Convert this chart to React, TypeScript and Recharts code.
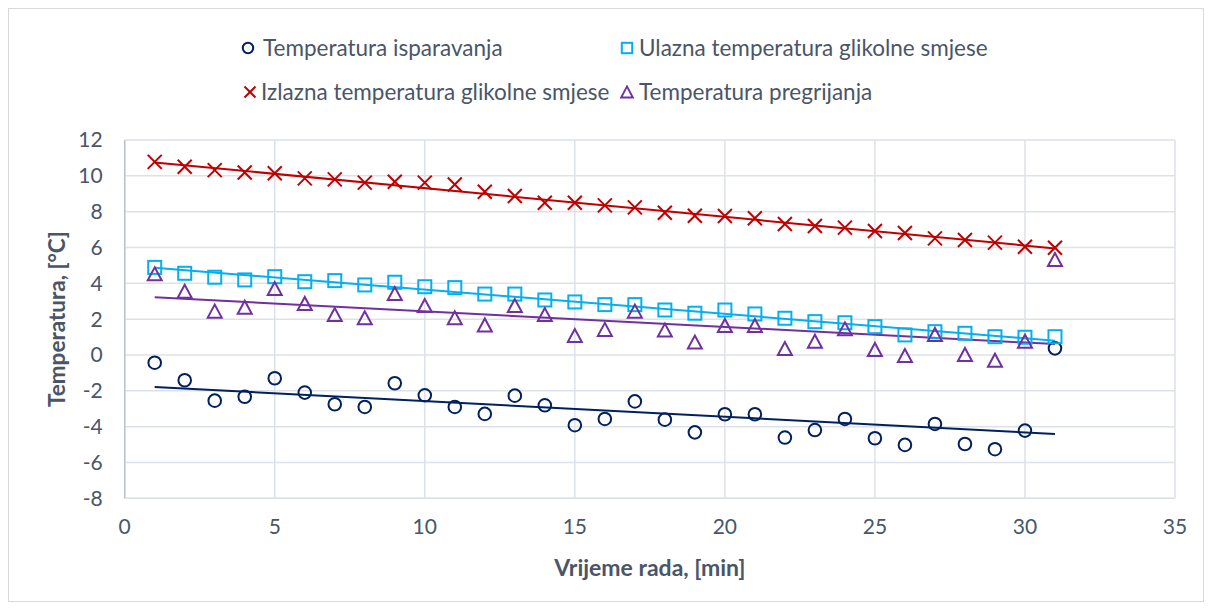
import React from 'react';
import { ScatterChart, Scatter, XAxis, YAxis, CartesianGrid, Legend, Label } from 'recharts';

const minutes = [1, 2, 3, 4, 5, 6, 7, 8, 9, 10, 11, 12, 13, 14, 15, 16, 17, 18, 19, 20, 21, 22, 23, 24, 25, 26, 27, 28, 29, 30, 31];

const isparavanja = [-0.43, -1.41, -2.55, -2.33, -1.3, -2.1, -2.75, -2.9, -1.58, -2.25, -2.9, -3.29, -2.27, -2.81, -3.92, -3.57, -2.59, -3.61, -4.32, -3.31, -3.31, -4.61, -4.19, -3.57, -4.65, -5.02, -3.85, -4.97, -5.26, -4.22, 0.37];
const ulazna = [4.89, 4.56, 4.34, 4.19, 4.37, 4.09, 4.15, 3.91, 4.06, 3.81, 3.76, 3.4, 3.4, 3.07, 2.96, 2.81, 2.81, 2.51, 2.33, 2.51, 2.29, 2.05, 1.86, 1.8, 1.58, 1.12, 1.3, 1.21, 1.02, 0.99, 1.02];
const izlazna = [10.78, 10.51, 10.32, 10.19, 10.14, 9.86, 9.8, 9.62, 9.67, 9.62, 9.52, 9.11, 8.87, 8.5, 8.5, 8.35, 8.24, 7.94, 7.77, 7.76, 7.63, 7.31, 7.2, 7.11, 6.92, 6.81, 6.51, 6.42, 6.27, 6.04, 5.99];
const pregrijanja = [4.5, 3.53, 2.42, 2.64, 3.68, 2.85, 2.23, 2.05, 3.4, 2.73, 2.05, 1.65, 2.73, 2.23, 1.06, 1.4, 2.42, 1.36, 0.69, 1.62, 1.62, 0.33, 0.74, 1.43, 0.28, -0.06, 1.12, 0.0, -0.32, 0.74, 5.3];

const trendX = [1, 31];
const trendIsparavanja = [-1.79, -4.41];
const trendUlazna = [4.87, 0.8];
const trendIzlazna = [10.75, 5.95];
const trendPregrijanja = [3.22, 0.61];

const xTicks = [0, 5, 10, 15, 20, 25, 30, 35];
const yTicks = [-8, -6, -4, -2, 0, 2, 4, 6, 8, 10, 12];

const seriesNames = [
  'Temperatura isparavanja',
  'Ulazna temperatura glikolne smjese',
  'Izlazna temperatura glikolne smjese',
  'Temperatura pregrijanja',
];

const NAVY = '#002060';
const CYAN = '#00B0F0';
const RED = '#C00000';
const PURPLE = '#7030A0';
const TEXT = '#4A5568';
const GRID = '#DDE2E9';
const FONT = 'Lato, "Noto Sans", sans-serif';

const toPoints = (ys: number[], xs: number[] = minutes) => xs.map((x, i) => ({ x, y: ys[i] }));

const CircleMark = (p: any) => <circle cx={p.cx} cy={p.cy} r={6.3} fill="none" stroke={NAVY} strokeWidth={2} />;
const SquareMark = (p: any) => <rect x={p.cx - 6.5} y={p.cy - 6.5} width={13} height={13} fill="none" stroke={CYAN} strokeWidth={2} />;
const CrossMark = (p: any) => (
  <g stroke={RED} strokeWidth={2}>
    <line x1={p.cx - 7} y1={p.cy - 7} x2={p.cx + 7} y2={p.cy + 7} />
    <line x1={p.cx - 7} y1={p.cy + 7} x2={p.cx + 7} y2={p.cy - 7} />
  </g>
);
const TriangleMark = (p: any) => (
  <polygon points={`${p.cx},${p.cy - 7} ${p.cx - 7},${p.cy + 6} ${p.cx + 7},${p.cy + 6}`} fill="none" stroke={PURPLE} strokeWidth={2} />
);
const NoMark = () => <g />;

const legendMarks = [
  <svg width={14} height={14}><circle cx={7} cy={7} r={5.2} fill="none" stroke={NAVY} strokeWidth={2} /></svg>,
  <svg width={14} height={14}><rect x={1.8} y={1.8} width={10.4} height={10.4} fill="none" stroke={CYAN} strokeWidth={2} /></svg>,
  <svg width={14} height={14}><g stroke={RED} strokeWidth={2}><line x1={1.5} y1={1.5} x2={12.5} y2={12.5} /><line x1={1.5} y1={12.5} x2={12.5} y2={1.5} /></g></svg>,
  <svg width={14} height={14}><polygon points="7,1.3 1.2,12.5 12.8,12.5" fill="none" stroke={PURPLE} strokeWidth={1.8} /></svg>,
];

const legendPos = [
  { mx: 232, tx: 254, y: 39 },
  { mx: 611, tx: 630, y: 39 },
  { mx: 234, tx: 252, y: 83 },
  { mx: 611, tx: 630, y: 83 },
];

const renderLegend = () => (
  <div style={{ position: 'relative', width: 1194, height: 110, fontFamily: FONT, fontSize: 22.5, color: TEXT }}>
    {seriesNames.map((name, i) => (
      <React.Fragment key={name}>
        <div style={{ position: 'absolute', left: legendPos[i].mx, top: legendPos[i].y - 7, width: 14, height: 14, lineHeight: 0 }}>{legendMarks[i]}</div>
        <div style={{ position: 'absolute', left: legendPos[i].tx, top: legendPos[i].y - 15, lineHeight: '30px', whiteSpace: 'nowrap' }}>{name}</div>
      </React.Fragment>
    ))}
  </div>
);

const XTitle = (props: any) => {
  const vb = props.viewBox;
  return (
    <text x={vb.x + vb.width / 2} y={567 - 9} textAnchor="middle" dominantBaseline="central" fill={TEXT} fontSize={23} fontWeight="bold" fontFamily={FONT}>
      Vrijeme rada, [min]
    </text>
  );
};

const YTitle = (props: any) => {
  const vb = props.viewBox;
  const cx = 57 - 9;
  const cy = vb.y + vb.height / 2;
  return (
    <text x={cx} y={cy} transform={`rotate(-90 ${cx} ${cy})`} textAnchor="middle" dominantBaseline="central" fill={TEXT} fontSize={22.5} fontWeight="bold" fontFamily={FONT}>
      Temperatura, [°C]
    </text>
  );
};

export default function App() {
  return (
    <div style={{ width: 1194, height: 592, border: '1px solid #D9D9D9', background: '#fff' }}>
      <ScatterChart width={1194} height={592} margin={{ top: 131, right: 28, bottom: 22.7, left: 15.7 }}>
        <CartesianGrid stroke={GRID} strokeWidth={1.5} />
        <XAxis
          type="number"
          dataKey="x"
          domain={[0, 35]}
          ticks={xTicks}
          interval={0}
          height={80}
          axisLine={{ stroke: GRID, strokeWidth: 1.5 }}
          tickLine={false}
          tickSize={6}
          tickMargin={15}
          tick={{ fill: TEXT, fontSize: 21, fontFamily: FONT }}
        >
          <Label content={<XTitle />} />
        </XAxis>
        <YAxis
          type="number"
          dataKey="y"
          domain={[-8, 12]}
          ticks={yTicks}
          interval={0}
          width={100}
          axisLine={{ stroke: '#BCC3CE', strokeWidth: 1.5 }}
          tickLine={false}
          tickSize={6}
          tickMargin={16}
          tick={{ fill: TEXT, fontSize: 21, fontFamily: FONT }}
        >
          <Label content={<YTitle />} />
        </YAxis>
        <Legend layout="vertical" align="center" verticalAlign="middle" wrapperStyle={{ top: 0, left: 0, width: 1194, height: 110 }} content={renderLegend} />
        <Scatter name="trend-isp" data={toPoints(trendIsparavanja, trendX)} line={{ stroke: NAVY, strokeWidth: 2 }} shape={NoMark} legendType="none" isAnimationActive={false} />
        <Scatter name="trend-ul" data={toPoints(trendUlazna, trendX)} line={{ stroke: CYAN, strokeWidth: 2 }} shape={NoMark} legendType="none" isAnimationActive={false} />
        <Scatter name="trend-iz" data={toPoints(trendIzlazna, trendX)} line={{ stroke: RED, strokeWidth: 2 }} shape={NoMark} legendType="none" isAnimationActive={false} />
        <Scatter name="trend-pr" data={toPoints(trendPregrijanja, trendX)} line={{ stroke: PURPLE, strokeWidth: 2 }} shape={NoMark} legendType="none" isAnimationActive={false} />
        <Scatter name={seriesNames[0]} data={toPoints(isparavanja)} shape={CircleMark} isAnimationActive={false} />
        <Scatter name={seriesNames[1]} data={toPoints(ulazna)} shape={SquareMark} isAnimationActive={false} />
        <Scatter name={seriesNames[2]} data={toPoints(izlazna)} shape={CrossMark} isAnimationActive={false} />
        <Scatter name={seriesNames[3]} data={toPoints(pregrijanja)} shape={TriangleMark} isAnimationActive={false} />
      </ScatterChart>
    </div>
  );
}
